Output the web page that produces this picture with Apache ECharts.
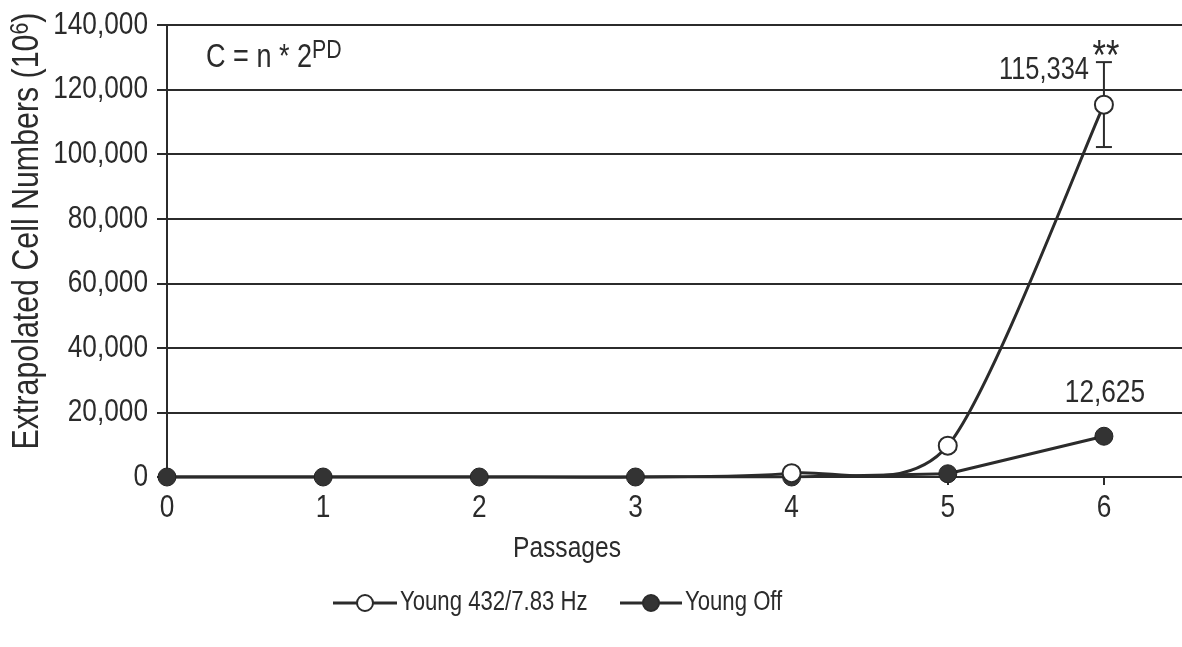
<!DOCTYPE html>
<html>
<head>
<meta charset="utf-8">
<script src="https://cdn.jsdelivr.net/npm/echarts@6/dist/echarts.min.js"></script>
<style>
  html, body { margin: 0; padding: 0; background: #fff; }
  #chart { width: 1182px; height: 647px; }
</style>
</head>
<body>
<div id="chart"></div>
<script>
// Passage numbers (x positions) and axis tick labels
const passages = [0, 1, 2, 3, 4, 5, 6];
const xTicks = [0, 1, 2, 3, 4, 5, 6];
const yTicks = [0, 20000, 40000, 60000, 80000, 100000, 120000, 140000];
// Extrapolated cell numbers (10^6) per passage
const young432 = [0, 0, 0, 0, 1200, 9700, 115334];
const youngOff = [0, 0, 0, 0, 0, 1000, 12625];
// Error bar on the last passage of the 432/7.83 Hz group
const errPassage = 6;
const errLow = 102200;
const errHigh = 128500;
const seriesNames = ['Young 432/7.83 Hz', 'Young Off'];

const FONT = "'Liberation Sans', Arial, sans-serif";
const NARROW = 0.82;            // horizontal squeeze for a narrow typeface
const INK = '#2b2b2b';
const TENSION = 0.8 / 6;        // spline control-point factor
const fmt = v => v.toLocaleString('en-US');

const chart = echarts.init(document.getElementById('chart'), null, { renderer: 'canvas' });
const lastIdx = passages.length - 1;

// Cubic spline segment between point i and i+1 (data space)
function splineSegment(xs, ys, i) {
  const n = xs.length;
  const p = k => [xs[Math.max(0, Math.min(n - 1, k))], ys[Math.max(0, Math.min(n - 1, k))]];
  const p0 = p(i - 1), p1 = p(i), p2 = p(i + 1), p3 = p(i + 2);
  const c1 = [p1[0] + (p2[0] - p0[0]) * TENSION, p1[1] + (p2[1] - p0[1]) * TENSION];
  const c2 = [p2[0] - (p3[0] - p1[0]) * TENSION, p2[1] - (p3[1] - p1[1]) * TENSION];
  return [p1, c1, c2, p2];
}

const markers432 = passages.map((p, i) => {
  const item = { value: [p, young432[i]] };
  if (i < 4) item.symbol = 'none';   // hidden under the filled markers
  return item;
});

const option = {
  animation: false,
  grid: { left: 167, right: 0, top: 25, bottom: 170, outerBoundsMode: 'none' },
  xAxis: {
    type: 'value',
    min: 0, max: 6.5, interval: 1,
    axisLine: { show: true, lineStyle: { color: INK, width: 2 } },
    axisTick: { show: true, length: 8, customValues: xTicks, lineStyle: { color: INK, width: 2 } },
    axisLabel: { show: false },
    splitLine: { show: false }
  },
  yAxis: {
    type: 'value',
    min: 0, max: 140000, interval: 20000,
    axisLine: { show: true, lineStyle: { color: INK, width: 2 } },
    axisTick: { show: true, length: 10, lineStyle: { color: INK, width: 2 } },
    axisLabel: { show: false },
    splitLine: { show: true, lineStyle: { color: INK, width: 2 } }
  },
  series: [
    {
      // smoothed curve of the 432/7.83 Hz group
      type: 'custom',
      z: 1,
      silent: true,
      data: passages.map((p, i) => [p, young432[i]]),
      renderItem: (params, api) => {
        const i = params.dataIndex;
        if (i >= lastIdx) return null;
        const seg = splineSegment(passages, young432, i).map(pt => api.coord(pt));
        return {
          type: 'bezierCurve',
          shape: {
            x1: seg[0][0], y1: seg[0][1],
            cpx1: seg[1][0], cpy1: seg[1][1],
            cpx2: seg[2][0], cpy2: seg[2][1],
            x2: seg[3][0], y2: seg[3][1]
          },
          style: { stroke: INK, lineWidth: 3, fill: null }
        };
      }
    },
    {
      name: seriesNames[1],
      type: 'line',
      data: passages.map((p, i) => [p, youngOff[i]]),
      z: 2,
      symbol: 'circle',
      symbolSize: 18,
      lineStyle: { color: INK, width: 3 },
      itemStyle: { color: '#333', borderColor: '#222', borderWidth: 1 }
    },
    {
      name: seriesNames[0],
      type: 'line',
      data: markers432,
      z: 4,
      symbol: 'circle',
      symbolSize: 18,
      lineStyle: { opacity: 0 },
      itemStyle: { color: '#fff', borderColor: INK, borderWidth: 2 }
    },
    {
      // error bar
      type: 'custom',
      z: 3,
      silent: true,
      data: [[errPassage, errLow, errHigh]],
      renderItem: (params, api) => {
        const lo = api.coord([api.value(0), api.value(1)]);
        const hi = api.coord([api.value(0), api.value(2)]);
        const cap = 8;
        const style = { stroke: INK, lineWidth: 2 };
        return {
          type: 'group',
          children: [
            { type: 'line', shape: { x1: lo[0], y1: lo[1], x2: hi[0], y2: hi[1] }, style },
            { type: 'line', shape: { x1: lo[0] - cap, y1: lo[1], x2: lo[0] + cap, y2: lo[1] }, style },
            { type: 'line', shape: { x1: hi[0] - cap, y1: hi[1], x2: hi[0] + cap, y2: hi[1] }, style }
          ]
        };
      }
    }
  ]
};

chart.setOption(option);

// ---- text, drawn in a narrow face ----
const px = (x, y) => chart.convertToPixel({ gridIndex: 0 }, [x, y]);
const origin = px(0, 0);

function label(x, y, text, size, align, vAlign, weight) {
  return {
    type: 'text', x, y, scaleX: NARROW, z: 10,
    style: {
      text, fontFamily: FONT, fontSize: size, fontWeight: weight || 'normal', fill: INK,
      align: align || 'left', verticalAlign: vAlign || 'middle'
    }
  };
}

const graphics = [];

// y tick labels
yTicks.forEach(v => {
  const p = px(0, v);
  graphics.push(label(origin[0] - 19, p[1], fmt(v), 32, 'right'));
});
// x tick labels
xTicks.forEach(v => {
  const p = px(v, 0);
  graphics.push(label(p[0], origin[1] + 31, String(v), 32, 'center'));
});

// axis titles
graphics.push(label(567, 549, 'Passages', 30, 'center'));
graphics.push({
  type: 'text', x: 28, y: 231, rotation: Math.PI / 2, scaleX: NARROW, z: 10,
  style: {
    text: '{a|Extrapolated Cell Numbers (10}{s|6}{a|)}',
    align: 'center', verticalAlign: 'middle',
    rich: {
      a: { fontFamily: FONT, fontSize: 37, fill: INK },
      s: { fontFamily: FONT, fontSize: 26, fill: INK, padding: [0, 0, 14, 0] }
    }
  }
});

// growth formula
graphics.push({
  type: 'text', x: 206, y: 38, scaleX: NARROW, z: 10,
  style: {
    text: '{a|C = n * 2}{s|PD}',
    rich: {
      a: { fontFamily: FONT, fontSize: 33, fill: INK },
      s: { fontFamily: FONT, fontSize: 26, fill: INK, padding: [0, 0, 14, 0] }
    }
  }
});

// value labels
const top432 = px(passages[lastIdx], young432[lastIdx]);
graphics.push(label(top432[0] - 15, top432[1] - 34, fmt(young432[lastIdx]), 31, 'right'));
const topOff = px(passages[lastIdx], youngOff[lastIdx]);
graphics.push(label(topOff[0] + 1, topOff[1] - 43, fmt(youngOff[lastIdx]), 32, 'center'));
// significance marker above the error bar
const errTop = px(errPassage, errHigh);
graphics.push(label(errTop[0] + 2, errTop[1] - 5, '**', 42, 'center', 'middle'));

// legend
const legendItems = [
  { x0: 333, x1: 397, cx: 365, tx: 400, name: seriesNames[0], fill: '#fff' },
  { x0: 620, x1: 682, cx: 651, tx: 685, name: seriesNames[1], fill: '#333' }
];
const legendY = 603;
legendItems.forEach(it => {
  graphics.push({ type: 'line', z: 10, shape: { x1: it.x0, y1: legendY, x2: it.x1, y2: legendY },
    style: { stroke: INK, lineWidth: 3 } });
  graphics.push({ type: 'circle', z: 11, shape: { cx: it.cx, cy: legendY, r: 8 },
    style: { fill: it.fill, stroke: INK, lineWidth: 2 } });
  graphics.push(label(it.tx, legendY, it.name, 27, 'left'));
});

chart.setOption({ graphic: graphics });
</script>
</body>
</html>
